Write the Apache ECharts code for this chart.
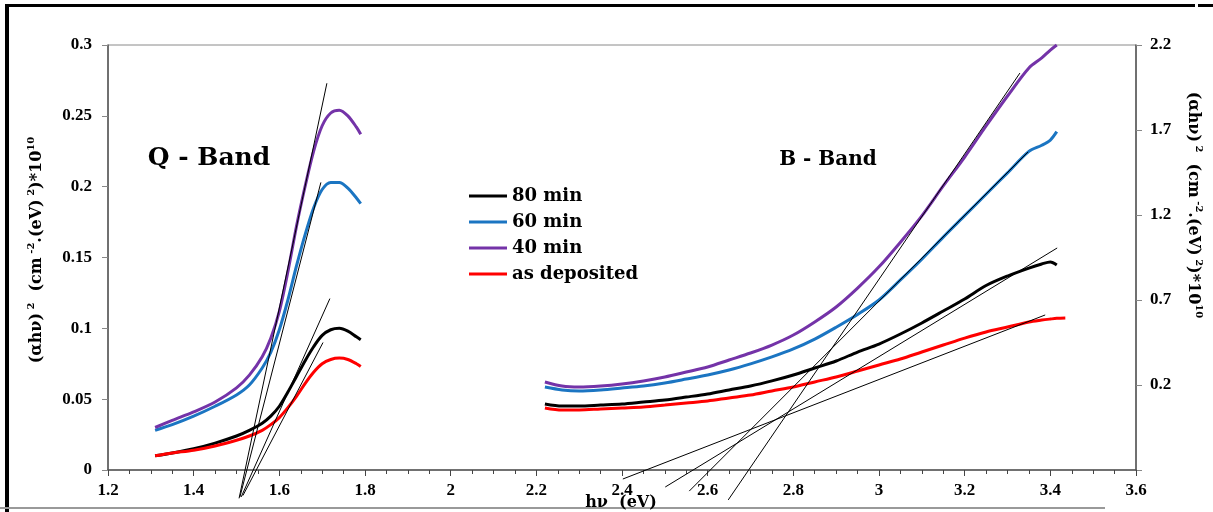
<!DOCTYPE html>
<html>
<head>
<meta charset="utf-8">
<title>Q - Band / B - Band</title>
<script src="https://cdn.jsdelivr.net/npm/echarts@6/dist/echarts.min.js"></script>
<style>
html,body{margin:0;padding:0;background:#fff;}
#chart{width:1213px;height:512px;}
</style>
</head>
<body>
<div id="chart"></div>
<script>
'use strict';

var seriesNames = ['80 min', '60 min', '40 min', 'as deposited'];
var seriesColors = ['#000000', '#1b75c2', '#7433a8', '#ff0000'];

// Q - Band, left axis
var qX = [1.31, 1.35, 1.40, 1.45, 1.50, 1.53, 1.56, 1.58, 1.60, 1.62, 1.64, 1.66, 1.68, 1.70, 1.72, 1.74, 1.76, 1.78, 1.79];
var q80 = [0.010, 0.012, 0.015, 0.019, 0.024, 0.028, 0.033, 0.038, 0.045, 0.055, 0.066, 0.077, 0.087, 0.095, 0.099, 0.100, 0.098, 0.094, 0.092];
var q60 = [0.028, 0.032, 0.038, 0.045, 0.053, 0.060, 0.072, 0.083, 0.099, 0.120, 0.144, 0.166, 0.185, 0.198, 0.203, 0.203, 0.199, 0.192, 0.188];
var q40 = [0.030, 0.035, 0.041, 0.048, 0.058, 0.067, 0.080, 0.093, 0.112, 0.140, 0.172, 0.200, 0.225, 0.243, 0.252, 0.254, 0.250, 0.242, 0.237];
var qDep = [0.010, 0.012, 0.014, 0.017, 0.021, 0.024, 0.028, 0.032, 0.037, 0.044, 0.052, 0.061, 0.069, 0.075, 0.078, 0.079, 0.078, 0.075, 0.073];

// B - Band, right axis
var bX = [2.22, 2.26, 2.30, 2.35, 2.40, 2.45, 2.50, 2.55, 2.60, 2.65, 2.70, 2.75, 2.80, 2.85, 2.90, 2.95, 3.00, 3.05, 3.10, 3.15, 3.20, 3.25, 3.30, 3.35, 3.38, 3.40, 3.415, 3.435];
var b80 = [0.088, 0.076, 0.076, 0.082, 0.088, 0.100, 0.112, 0.129, 0.147, 0.171, 0.194, 0.224, 0.259, 0.300, 0.341, 0.394, 0.441, 0.500, 0.565, 0.635, 0.706, 0.785, 0.841, 0.888, 0.912, 0.924, 0.906, null];
var b60 = [0.188, 0.171, 0.165, 0.171, 0.182, 0.194, 0.212, 0.235, 0.259, 0.288, 0.324, 0.365, 0.412, 0.470, 0.540, 0.615, 0.700, 0.818, 0.940, 1.070, 1.196, 1.322, 1.448, 1.574, 1.610, 1.641, 1.690, null];
var b40 = [0.218, 0.194, 0.188, 0.194, 0.206, 0.224, 0.247, 0.276, 0.306, 0.347, 0.388, 0.435, 0.494, 0.571, 0.659, 0.770, 0.895, 1.040, 1.195, 1.371, 1.541, 1.724, 1.900, 2.065, 2.124, 2.170, 2.200, null];
var bDep = [0.065, 0.053, 0.053, 0.059, 0.065, 0.071, 0.082, 0.094, 0.106, 0.124, 0.141, 0.165, 0.188, 0.218, 0.247, 0.282, 0.318, 0.353, 0.394, 0.435, 0.476, 0.512, 0.541, 0.571, 0.582, 0.588, 0.592, 0.594];

// fitted tangent lines [x0, y0, x1, y1]
var qTangents = [
    [1.506, -0.020, 1.711, 0.273],
    [1.508, -0.019, 1.697, 0.203],
    [1.511, -0.019, 1.718, 0.121],
    [1.515, -0.018, 1.702, 0.090]
];
var bTangents = [
    [2.648, -0.476, 3.329, 2.035],
    [2.557, -0.424, 3.348, 1.571],
    [2.501, -0.400, 3.416, 1.006],
    [2.402, -0.353, 3.388, 0.612]
];

var xTicks = {min: 1.2, max: 3.6, step: 0.2};
var leftTicks = {min: 0, max: 0.3, step: 0.05};
var rightTicks = {min: -0.3, max: 2.2, step: 0.5};

var serif = 'Liberation Serif';
var wide = 'DejaVu Serif';

function pairs(xs, ys) {
    var out = [];
    for (var i = 0; i < xs.length; i++) {
        out.push([xs[i], ys[i]]);
    }
    return out;
}

var series = [];
var qData = [q80, q60, q40, qDep];
var bData = [b80, b60, b40, bDep];
for (var i = 0; i < seriesNames.length; i++) {
    series.push({
        name: seriesNames[i], type: 'line', yAxisIndex: 0, smooth: 0.3,
        symbol: 'none', z: 3, color: seriesColors[i],
        lineStyle: {width: 3, color: seriesColors[i]},
        data: pairs(qX, qData[i])
    });
    series.push({
        name: seriesNames[i], type: 'line', yAxisIndex: 1, smooth: 0.3,
        symbol: 'none', z: 3, color: seriesColors[i], connectNulls: false,
        lineStyle: {width: 3, color: seriesColors[i]},
        data: pairs(bX, bData[i])
    });
}
function tangent(t, axis) {
    return {
        type: 'line', yAxisIndex: axis, symbol: 'none', clip: false, silent: true, z: 5,
        lineStyle: {width: 1, color: '#000'},
        data: [[t[0], t[1]], [t[2], t[3]]]
    };
}
qTangents.forEach(function (t) { series.push(tangent(t, 0)); });
bTangents.forEach(function (t) { series.push(tangent(t, 1)); });

var labelStyle = {color: '#000', fontFamily: serif, fontWeight: 'bold', fontSize: 17};

var titleRich = {
    b: {fontFamily: wide, fontWeight: 'bold', fontSize: 16, color: '#000', lineHeight: 22},
    s: {fontFamily: wide, fontWeight: 'bold', fontSize: 10, color: '#000', verticalAlign: 'top', lineHeight: 22}
};
var titleText = '{b|(\u03b1h\u03bd)}{s| 2}{b|  (cm}{s| -2}{b|.(eV)}{s| 2}{b|)*10}{s|10}';

var myChart = echarts.init(document.getElementById('chart'), null, {renderer: 'canvas'});
myChart.setOption({
    animation: false,
    backgroundColor: '#fff',
    grid: {
        left: 108, right: 77, top: 45, bottom: 42, outerBoundsMode: 'none',
        show: true, borderColor: '#8a8a8a', borderWidth: 1
    },
    legend: {
        data: seriesNames, orient: 'vertical', left: 464, top: 182,
        icon: 'rect', itemWidth: 38, itemHeight: 3, itemGap: 8,
        textStyle: {fontFamily: wide, fontWeight: 'bold', fontSize: 18, color: '#000'}
    },
    xAxis: {
        type: 'value', min: xTicks.min, max: xTicks.max, interval: xTicks.step,
        axisLine: {lineStyle: {color: '#555', width: 1.5}},
        axisTick: {length: 6, lineStyle: {color: '#444'}},
        minorTick: {show: true, splitNumber: 4, length: 4, lineStyle: {color: '#444'}},
        axisLabel: Object.assign({margin: 12}, labelStyle),
        splitLine: {show: false}
    },
    yAxis: [{
        type: 'value', min: leftTicks.min, max: leftTicks.max, interval: leftTicks.step,
        axisLine: {show: true, lineStyle: {color: '#555', width: 1.5}},
        axisTick: {show: true, length: 6, lineStyle: {color: '#888'}},
        axisLabel: Object.assign({margin: 16}, labelStyle),
        splitLine: {show: false}
    }, {
        type: 'value', position: 'right', min: rightTicks.min, max: rightTicks.max, interval: rightTicks.step,
        axisLine: {show: true, lineStyle: {color: '#555', width: 1.5}},
        axisTick: {show: true, length: 6, lineStyle: {color: '#888'}},
        axisLabel: Object.assign({
            margin: 14,
            formatter: function (v) { return v < 0 ? '' : (Math.round(v * 10) / 10).toFixed(1); }
        }, labelStyle),
        splitLine: {show: false}
    }],
    graphic: [
        {type: 'rect', shape: {x: 5, y: 4, width: 4, height: 508}, style: {fill: '#000'}, silent: true},
        {type: 'rect', shape: {x: 5, y: 4, width: 1190, height: 3}, style: {fill: '#000'}, silent: true},
        {type: 'rect', shape: {x: 1198, y: 4, width: 15, height: 3}, style: {fill: '#000'}, silent: true},
        {type: 'rect', shape: {x: 0, y: 507, width: 1105, height: 2}, style: {fill: '#999'}, silent: true},
        {type: 'text', x: 621, y: 503, silent: true, z: 10,
            style: {text: 'h\u03bd  (eV)', fontFamily: wide, fontWeight: 'bold', fontSize: 16, fill: '#000', align: 'center', verticalAlign: 'middle'}},
        {type: 'text', x: 209, y: 158, silent: true,
            style: {text: 'Q - Band', fontFamily: wide, fontWeight: 'bold', fontSize: 25, fill: '#000', align: 'center', verticalAlign: 'middle'}},
        {type: 'text', x: 828, y: 160, silent: true,
            style: {text: 'B - Band', fontFamily: wide, fontWeight: 'bold', fontSize: 20, fill: '#000', align: 'center', verticalAlign: 'middle'}},
        {type: 'text', x: 37, y: 250, rotation: Math.PI / 2, silent: true,
            style: {text: titleText, rich: titleRich, align: 'center', verticalAlign: 'middle'}},
        {type: 'text', x: 1193, y: 205, rotation: -Math.PI / 2, silent: true,
            style: {text: titleText, rich: titleRich, align: 'center', verticalAlign: 'middle'}}
    ],
    series: series
});
</script>
</body>
</html>
